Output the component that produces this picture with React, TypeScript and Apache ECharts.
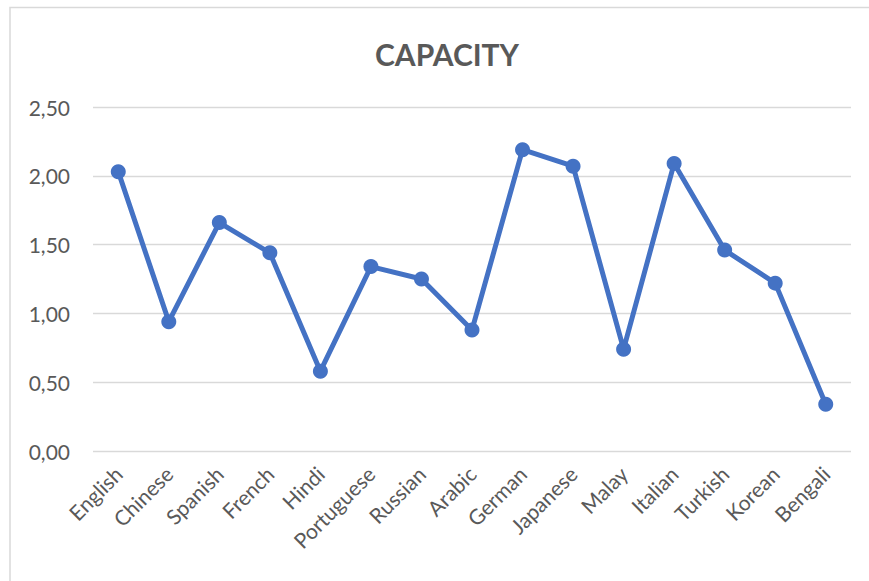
import React, { useEffect, useRef } from "react";
import * as echarts from "echarts";

const categories = [
  "English", "Chinese", "Spanish", "French", "Hindi", "Portuguese", "Russian", "Arabic",
  "German", "Japanese", "Malay", "Italian", "Turkish", "Korean", "Bengali",
];
const capacityValues = [2.03, 0.94, 1.66, 1.44, 0.58, 1.34, 1.25, 0.88, 2.19, 2.07, 0.74, 2.09, 1.46, 1.22, 0.34];
const yTicks = [0, 0.5, 1, 1.5, 2, 2.5];

const FONT = "Lato";
const TEXT = "#595959";

export default function App() {
  const ref = useRef<HTMLDivElement>(null);
  useEffect(() => {
    if (!ref.current) return;
    const chart = echarts.init(ref.current, undefined, { renderer: "svg" });
    chart.setOption({
      animation: false,
      backgroundColor: "#ffffff",
      title: {
        text: "CAPACITY",
        left: 442,
        textAlign: "center",
        top: 34,
        textStyle: { fontFamily: FONT, fontWeight: "bold", fontSize: 30, color: TEXT },
      },
      graphic: [
        {
          type: "rect",
          shape: { x: 10, y: 7.5, width: 1000, height: 1000 },
          style: { fill: "none", stroke: "#d9d9d9", lineWidth: 1.5 },
          silent: true,
        },
      ],
      grid: { left: 93, right: 18, top: 107, bottom: 130, containLabel: false },
      xAxis: {
        type: "category",
        data: categories,
        boundaryGap: true,
        axisLine: { show: false },
        axisTick: { show: false },
        axisLabel: {
          rotate: 45,
          interval: 0,
          margin: 19,
          fontFamily: FONT,
          fontSize: 21,
          color: TEXT,
        },
      },
      yAxis: {
        type: "value",
        min: 0,
        max: yTicks[yTicks.length - 1],
        interval: 0.5,
        axisLine: { show: false },
        axisTick: { show: false },
        splitLine: { lineStyle: { color: "#d9d9d9", width: 1.3 } },
        axisLabel: {
          margin: 23,
          fontFamily: FONT,
          fontSize: 21,
          color: TEXT,
          formatter: (v: number) => v.toFixed(2).replace(".", ","),
        },
      },
      series: [
        {
          type: "line",
          data: capacityValues,
          symbol: "circle",
          symbolSize: 15,
          lineStyle: { color: "#4472C4", width: 5 },
          itemStyle: { color: "#4472C4" },
        },
      ],
    });
    return () => chart.dispose();
  }, []);
  return (
    <div
      ref={ref}
      style={{ position: "fixed", left: 0, top: 0, width: 869, height: 581, background: "#fff" }}
    />
  );
}
